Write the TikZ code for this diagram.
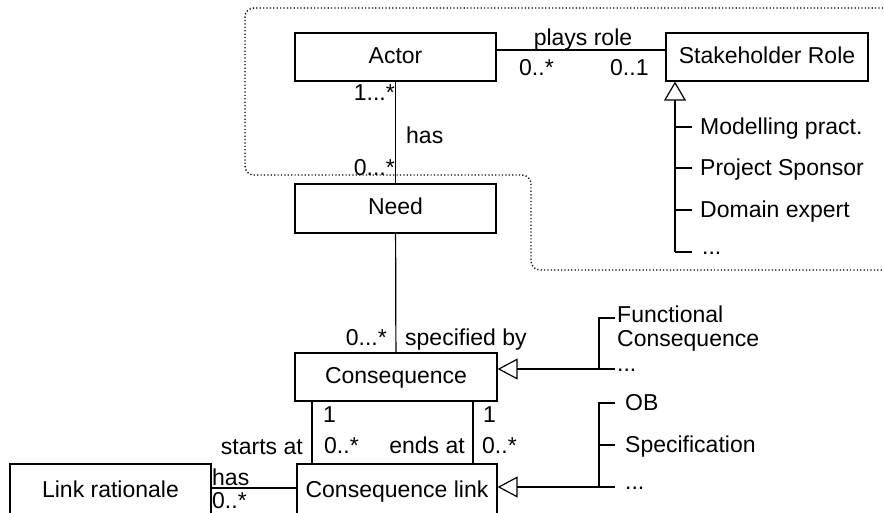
\documentclass[tikz,border=0pt]{standalone}
\usepackage{fontspec}
\setmainfont{Liberation Sans}
\usetikzlibrary{arrows.meta}
\tikzset{
  x=1pt, y=-1pt,
  every node/.style={font=\fontsize{23}{27}\selectfont, inner sep=0pt},
  umlbox/.style={draw, line width=1.2pt, rectangle, text height=17pt, text depth=5pt},
  conn/.style={line width=1.2pt},
  gen/.style={line width=1.2pt, -{Triangle[open, length=20pt, width=21pt, line width=1.2pt]}},
  boundary/.style={line width=1.4pt, dash pattern=on 1.2pt off 2.2pt, rounded corners=9pt},
  lbl/.style={anchor=base west},
  lblr/.style={anchor=base east}
}
\begin{document}
\begin{tikzpicture}
\useasboundingbox (0,0) rectangle (884,512);
% dotted boundary
\draw[boundary] (900,8) -- (245,8) -- (245,175) -- (531,175) -- (531,270) -- (900,270);

% boxes
\node[umlbox, minimum width=201pt, minimum height=48pt] (actor) at (395.5,57) {Actor};
\node[umlbox, minimum width=202pt, minimum height=48pt] (sr) at (767,57) {Stakeholder Role};
\node[umlbox, minimum width=201pt, minimum height=49pt] (need) at (395.5,208.5) {Need};
\node[umlbox, minimum width=202pt, minimum height=48pt] (cons) at (396,377) {Consequence};
\node[umlbox, minimum width=200pt, minimum height=54pt] (cl) at (397,491) {Consequence link};
\node[umlbox, minimum width=201pt, minimum height=54pt] (lr) at (110.5,491) {Link rationale};

% actor - stakeholder role
\coordinate (py) at (0,50);
\draw[conn] (actor.east |- py) -- (sr.west |- py);
\node[anchor=base] (playsrole) at (583,45.5) {plays role};
\node[lbl] (m1) at (519,75) {0..*};
\node[lbl] (m2) at (610,75) {0..1};

% actor - need
\draw[conn] (actor) -- (need);
\node[lblr] (m3) at (395,100) {1...*};
\node[lbl] (hasA) at (406,143) {has};
\node[lblr] (m4) at (395,175) {0...*};

% need - consequence
\draw[conn] (need) -- (cons);
\node[lblr] (m5) at (387,345) {0...*};
\node[lbl] (specby) at (405,345) {specified by};

% stakeholder role specialisations
\coordinate (sg) at (675,252);
\coordinate (sg1) at (675,127);
\coordinate (sg2) at (675,168);
\coordinate (sg3) at (675,210);
\draw[gen, -{Triangle[open, length=19pt, width=22pt, line width=1.2pt]}] (sg) -- (sg |- sr.south);
\draw[conn] (sg) -- ++(17,0);
\draw[conn] (sg1) -- ++(17,0);
\draw[conn] (sg2) -- ++(17,0);
\draw[conn] (sg3) -- ++(17,0);
\node[lbl] (r1) at (700,134) {Modelling pract.};
\node[lbl] (r2) at (700,175) {Project Sponsor};
\node[lbl] (r3) at (700,217) {Domain expert};
\node[lbl] (r4) at (702,254) {...};

% consequence specialisations
\coordinate (cg) at (615,369);
\coordinate (cgv) at (599,369);
\coordinate (cg1) at (599,318);
\draw[gen] (cg) -- (cons.east |- cg);
\draw[conn] (cgv) -- (cg1) -- ++(16,0);
\node[lbl] (f1) at (617,322) {Functional};
\node[lbl] (f2) at (617,346) {Consequence};
\node[lbl] (f3) at (617,371) {...};

% consequence link specialisations
\coordinate (lg) at (615,487);
\coordinate (lgv) at (599,487);
\coordinate (lg1) at (599,403);
\coordinate (lg2) at (599,445);
\draw[gen] (lg) -- (cl.east |- lg);
\draw[conn] (lgv) -- (lg1) -- ++(16,0);
\draw[conn] (lg2) -- ++(16,0);
\node[lbl] (o1) at (625,410) {OB};
\node[lbl] (o2) at (625,452) {Specification};
\node[lbl] (o3) at (625,489) {...};

% starts at / ends at
\coordinate (sx) at (312,0);
\coordinate (ex) at (473,0);
\draw[conn] (cons.south -| sx) -- (cl.north -| sx);
\draw[conn] (cons.south -| ex) -- (cl.north -| ex);
\node[lblr] (startsat) at (303,454) {starts at};
\node[lbl] (s1) at (323,422) {1};
\node[lbl] (s2) at (324,453) {0..*};
\node[lblr] (endsat) at (465,453) {ends at};
\node[lbl] (e1) at (483,422) {1};
\node[lbl] (e2) at (482,453) {0..*};

% link rationale
\coordinate (ly) at (0,488);
\draw[conn] (lr.east |- ly) -- (cl.west |- ly);
\node[lbl] (hasL) at (212,485) {has};
\node[lbl] (lm) at (212,508.5) {0..*};
\end{tikzpicture}
\end{document}
